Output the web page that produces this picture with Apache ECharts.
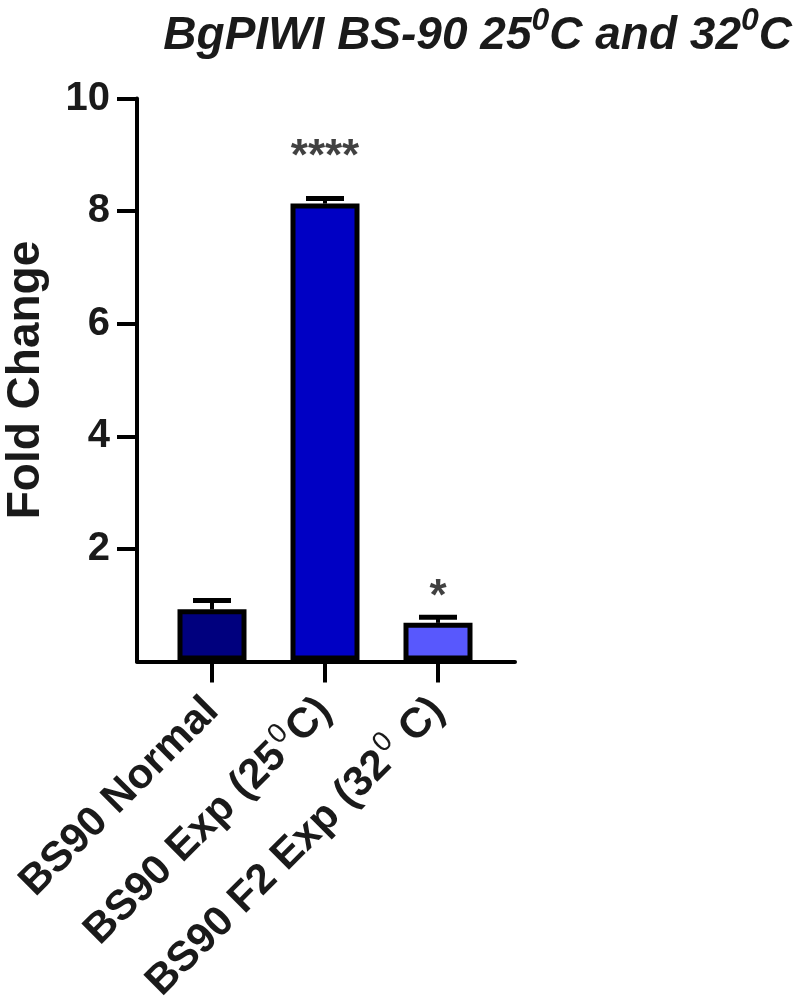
<!DOCTYPE html>
<html>
<head>
<meta charset="utf-8">
<script src="https://cdn.jsdelivr.net/npm/echarts@6/dist/echarts.min.js"></script>
<style>
  html, body { margin: 0; padding: 0; background: #fff; }
  #chart { width: 800px; height: 1006px; }
</style>
</head>
<body>
<div id="chart"></div>
<script>
// categories (the \u2070 marks a superscript zero)
const categories = ['BS90 Normal', 'BS90 Exp (25\u2070C)', 'BS90 F2 Exp (32\u2070 C)']
const means = [0.91, 8.13, 0.67]
const errors = [0.16, 0.09, 0.10]
const barColors = ['#00007e', '#0000c4', '#5858fd']
const sigMarks = ['', '****', '*']
const sigLevels = [0, 8.95, 1.12]
const yTicks = [2, 4, 6, 8, 10]

const FONT = 'Liberation Sans, Arial, Helvetica, sans-serif'

const chart = echarts.init(document.getElementById('chart'))

// split the label on the superscript marker into rich text pieces
function richLabel(name) {
  return name.split('\u2070').map(p => '{b|' + p + '}').join('{s|0}')
}

chart.setOption({
  animation: false,
  title: {
    text: '{t|BgPIWI BS-90 25}{s|0}{t|C and 32}{s|0}{t|C}',
    right: 3,
    top: -6,
    textStyle: {
      rich: {
        t: { fontFamily: FONT, fontSize: 46, fontWeight: 'bold', fontStyle: 'italic', color: '#1a1a1a', lineHeight: 60, verticalAlign: 'bottom' },
        s: { fontFamily: FONT, fontSize: 32, fontWeight: 'bold', fontStyle: 'italic', color: '#1a1a1a', padding: [0, 0, 22, 0], verticalAlign: 'bottom' }
      }
    }
  },
  grid: [
    { left: 137, right: 285, top: 98.5, bottom: 344.5 },
    { left: 155.5, right: 305.5, top: 98.5, bottom: 344.5 }
  ],
  xAxis: [
    {
      gridIndex: 0,
      type: 'value',
      min: 0,
      max: 1,
      axisLine: { show: true, lineStyle: { color: '#000', width: 4 } },
      axisTick: { show: false },
      axisLabel: { show: false },
      splitLine: { show: false }
    },
    {
      gridIndex: 1,
      type: 'category',
      data: categories,
      axisLine: { show: false },
      axisTick: { show: true, alignWithLabel: true, length: 22, lineStyle: { color: '#000', width: 4 } },
      axisLabel: {
        rotate: 45,
        margin: 44,
        interval: 0,
        formatter: v => richLabel(v),
        rich: {
          b: { fontFamily: FONT, fontSize: 42, fontWeight: 'bold', color: '#1a1a1a' },
          s: { fontFamily: FONT, fontSize: 28, color: '#1a1a1a', padding: [0, 2, 24, 2] }
        }
      },
      splitLine: { show: false }
    }
  ],
  yAxis: [
    {
      gridIndex: 0,
      type: 'value',
      min: 0,
      max: 10,
      interval: 2,
      name: 'Fold Change',
      nameLocation: 'middle',
      nameGap: 88,
      nameTextStyle: { fontFamily: FONT, fontSize: 46, fontWeight: 'bold', color: '#1a1a1a' },
      axisLine: { show: true, lineStyle: { color: '#000', width: 4 } },
      axisTick: { show: true, length: 20, customValues: yTicks, lineStyle: { color: '#000', width: 4 } },
      axisLabel: {
        customValues: yTicks,
        margin: 27,
        fontFamily: FONT,
        fontSize: 40,
        fontWeight: 'bold',
        color: '#1a1a1a'
      },
      splitLine: { show: false }
    },
    {
      gridIndex: 1,
      type: 'value',
      min: 0,
      max: 10,
      interval: 2,
      show: false
    }
  ],
  series: [
    {
      type: 'bar',
      xAxisIndex: 1,
      yAxisIndex: 1,
      barWidth: 69,
      data: means.map((v, i) => ({
        value: v,
        itemStyle: { color: barColors[i], borderColor: '#000', borderWidth: 5 }
      })),
      z: 2
    },
    {
      type: 'custom',
      xAxisIndex: 1,
      yAxisIndex: 1,
      data: means.map((v, i) => [i, v, v + errors[i]]),
      renderItem: (params, api) => {
        const base = api.coord([api.value(0), api.value(1)])
        const top = api.coord([api.value(0), api.value(2)])
        const capW = 38
        return {
          type: 'group',
          children: [
            {
              type: 'line',
              shape: { x1: base[0], y1: base[1], x2: top[0], y2: top[1] },
              style: { stroke: '#000', lineWidth: 4 }
            },
            {
              type: 'line',
              shape: { x1: top[0] - capW / 2, y1: top[1], x2: top[0] + capW / 2, y2: top[1] },
              style: { stroke: '#000', lineWidth: 5 }
            }
          ]
        }
      },
      z: 3
    },
    {
      type: 'scatter',
      xAxisIndex: 1,
      yAxisIndex: 1,
      symbolSize: 0,
      data: sigLevels.map((v, i) => [i, v]),
      label: {
        show: true,
        position: 'inside',
        formatter: p => sigMarks[p.dataIndex],
        fontFamily: FONT,
        fontSize: 44,
        fontWeight: 'bold',
        color: '#111'
      },
      z: 4
    }
  ]
})
</script>
</body>
</html>
